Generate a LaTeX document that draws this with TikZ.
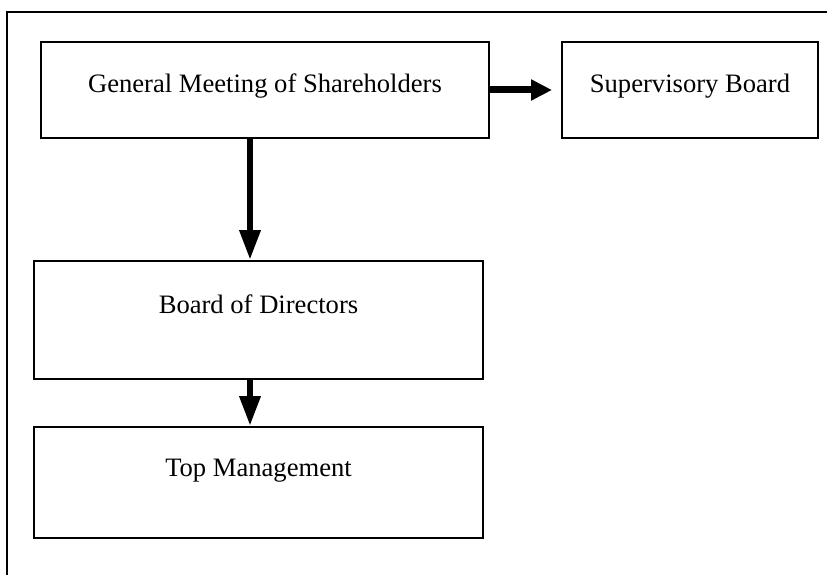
\documentclass[tikz,border=0pt]{standalone}
\usepackage{fontspec}
\setmainfont{Liberation Serif}
\usetikzlibrary{arrows.meta}
\begin{document}
\begin{tikzpicture}[x=1pt,y=-1pt,
  box/.style={draw, line width=2pt, inner xsep=0pt, inner ysep=0pt, anchor=north west,
    font=\fontsize{26.6}{32}\selectfont},
  frameline/.style={line width=1.8pt},
  vflow/.style={line width=6.5pt, -{Triangle[width=20pt,length=30pt]}},
  hflow/.style={line width=7pt, -{Triangle[width=20pt,length=21pt]}}]
\useasboundingbox (0,0) rectangle (827,575);
\coordinate (fb) at (7,575);
\coordinate (fc) at (7,12);
\coordinate (fr) at (827,12);
\draw[frameline] (fb) -- (fc) -- (fr);
\node[box, minimum width=448pt, text height=51pt, text depth=45pt] (GM) at (40,41) {General Meeting of Shareholders};
\node[box, minimum width=256pt, text height=51pt, text depth=45pt] (SB) at (561,41) {Supervisory Board};
\node[box, minimum width=449pt, text height=52pt, text depth=66pt] (BD) at (33,260) {Board of Directors};
\node[box, minimum width=449pt, text height=49pt, text depth=62pt] (TM) at (33,426) {Top Management};
\draw[vflow] ([xshift=-15pt]GM.south) -- ([xshift=-15pt]GM.south |- BD.north);
\draw[hflow, shorten >=9pt] (GM.east) -- (SB.west);
\draw[vflow] ([xshift=-8.5pt]BD.south) -- ([xshift=-8.5pt]BD.south |- TM.north);
\end{tikzpicture}
\end{document}
